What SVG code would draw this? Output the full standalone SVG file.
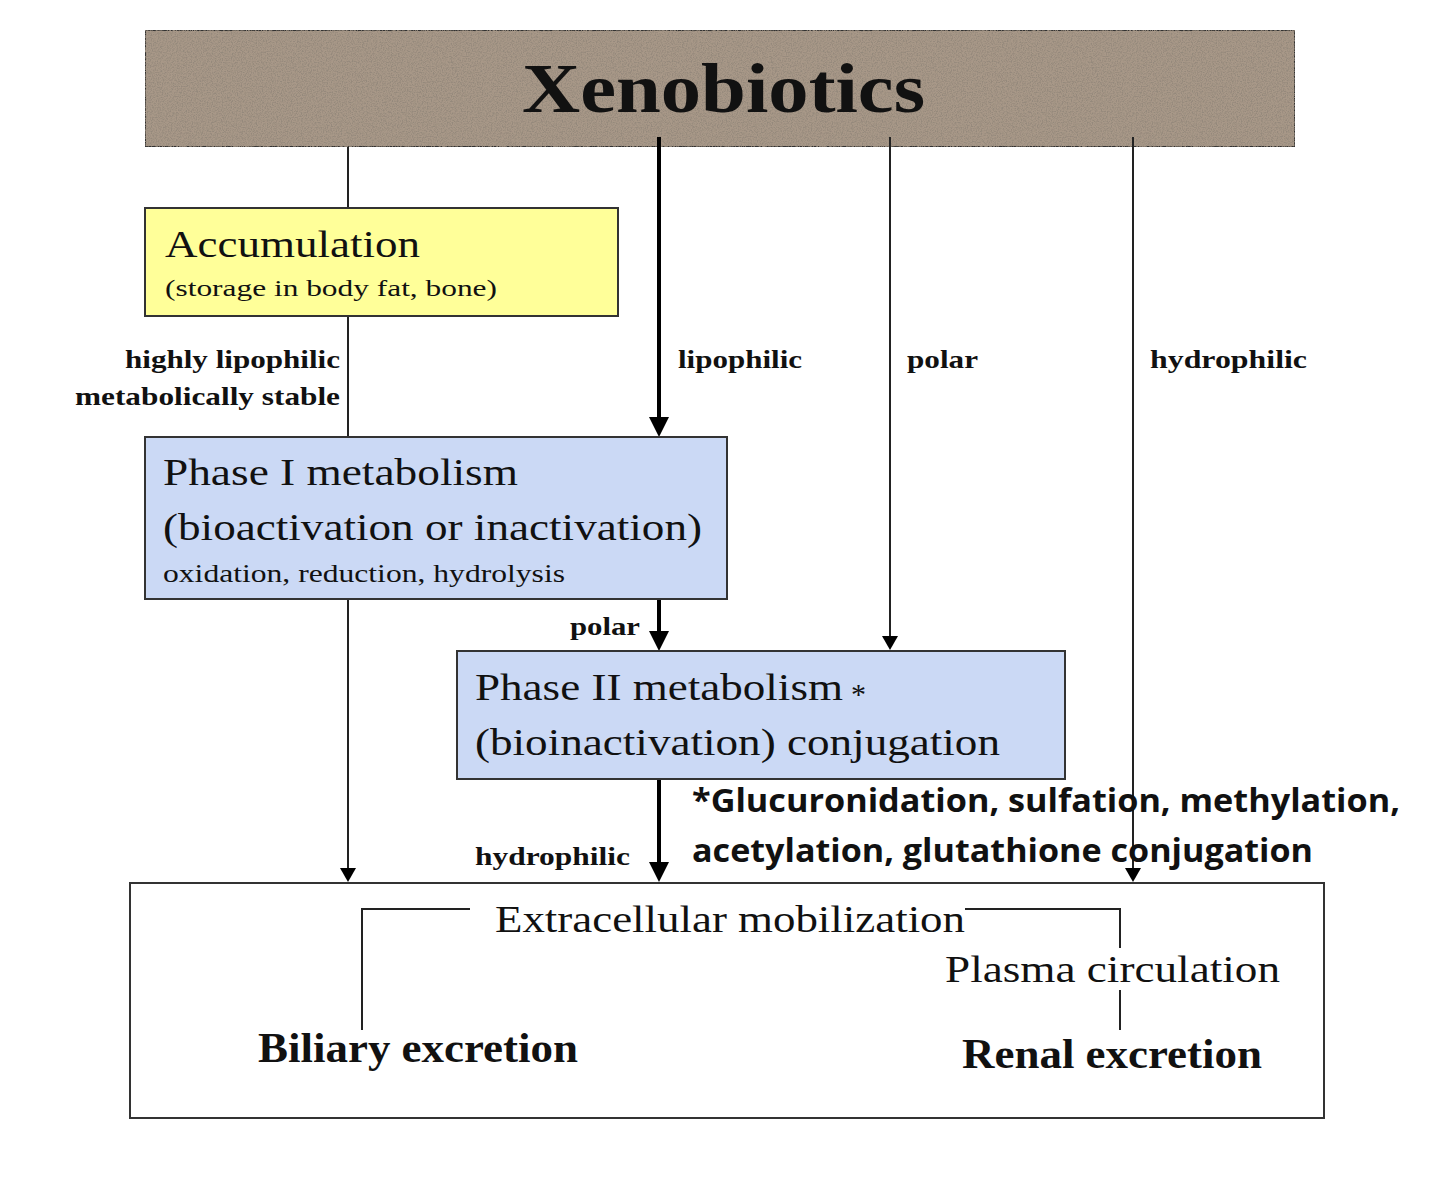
<svg xmlns="http://www.w3.org/2000/svg" width="1440" height="1186" viewBox="0 0 1440 1186">
<defs>
<filter id="tex" x="0" y="0" width="100%" height="100%"><feTurbulence type="fractalNoise" baseFrequency="0.8" numOctaves="2" result="n"/><feColorMatrix in="n" type="matrix" values="0 0 0 0 0.3  0 0 0 0 0.25  0 0 0 0 0.2  0 0 0 3 -1.2" result="c"/><feComposite in="c" in2="SourceGraphic" operator="in" result="cc"/><feMerge><feMergeNode in="SourceGraphic"/><feMergeNode in="cc"/></feMerge></filter>
<marker id="a" markerWidth="8" markerHeight="8" refX="6" refY="4" orient="auto" markerUnits="strokeWidth"><path d="M0,0 L7,4 L0,8 z" fill="#000"/></marker>
<marker id="b" markerWidth="5" markerHeight="5" refX="4" refY="2.5" orient="auto" markerUnits="strokeWidth"><path d="M0,0 L5,2.5 L0,5 z" fill="#000"/></marker>
</defs>
<style>
.s{font-family:"Liberation Serif",serif;fill:#111}
.b{font-family:"Liberation Serif",serif;font-weight:bold;font-size:25px;fill:#111}
.box{stroke:#333;stroke-width:2}
.thin{stroke:#222;stroke-width:2;fill:none}
.thick{stroke:#000;stroke-width:4;fill:none}
</style>
<rect width="1440" height="1186" fill="#fff"/>
<g id="xeno"><rect x="145" y="30" width="1150" height="117" fill="#a89888" class="box" filter="url(#tex)"/><text x="522" y="112" textLength="403" lengthAdjust="spacingAndGlyphs" class="s" font-size="70" font-weight="bold">Xenobiotics</text></g>
<g id="connectors">
<line x1="348" y1="147" x2="348" y2="208" class="thin"/>
<line x1="348" y1="316" x2="348" y2="437" class="thin"/>
<line x1="348" y1="599" x2="348" y2="880" class="thin" marker-end="url(#a)"/>
<line x1="659" y1="137" x2="659" y2="433" class="thick" marker-end="url(#b)"/>
<line x1="890" y1="137" x2="890" y2="648" class="thin" marker-end="url(#a)"/>
<line x1="1133" y1="137" x2="1133" y2="880" class="thin" marker-end="url(#a)"/>
<line x1="659" y1="585" x2="659" y2="647" class="thick" marker-end="url(#b)"/>
<line x1="659" y1="775" x2="659" y2="878" class="thick" marker-end="url(#b)"/>
</g>
<g id="accum"><rect x="145" y="208" width="473" height="108" fill="#ffff99" class="box"/><text x="165" y="257" textLength="255" lengthAdjust="spacingAndGlyphs" class="s" font-size="38">Accumulation</text><text x="165" y="296" textLength="332" lengthAdjust="spacingAndGlyphs" class="s" font-size="24">(storage in body fat, bone)</text></g>
<g id="labels">
<text x="125" y="368" textLength="215" lengthAdjust="spacingAndGlyphs" class="b">highly lipophilic</text>
<text x="75" y="405" textLength="265" lengthAdjust="spacingAndGlyphs" class="b">metabolically stable</text>
<text x="678" y="368" textLength="124" lengthAdjust="spacingAndGlyphs" class="b">lipophilic</text>
<text x="907" y="368" textLength="71" lengthAdjust="spacingAndGlyphs" class="b">polar</text>
<text x="1150" y="368" textLength="157" lengthAdjust="spacingAndGlyphs" class="b">hydrophilic</text>
<text x="570" y="635" textLength="70" lengthAdjust="spacingAndGlyphs" class="b">polar</text>
<text x="475" y="865" textLength="155" lengthAdjust="spacingAndGlyphs" class="b">hydrophilic</text>
</g>
<g id="phase1"><rect x="145" y="437" width="582" height="162" fill="#cbd9f5" class="box"/><text x="163" y="485" textLength="355" lengthAdjust="spacingAndGlyphs" class="s" font-size="38">Phase I metabolism</text><text x="163" y="540" textLength="539" lengthAdjust="spacingAndGlyphs" class="s" font-size="38">(bioactivation or inactivation)</text><text x="163" y="582" textLength="402" lengthAdjust="spacingAndGlyphs" class="s" font-size="25">oxidation, reduction, hydrolysis</text></g>
<g id="phase2"><rect x="457" y="651" width="608" height="128" fill="#cbd9f5" class="box"/><text x="475" y="700" textLength="368" lengthAdjust="spacingAndGlyphs" class="s" font-size="38">Phase II metabolism</text><text x="851" y="704" class="s" font-size="30">*</text><text x="475" y="755" textLength="525" lengthAdjust="spacingAndGlyphs" class="s" font-size="38">(bioinactivation) conjugation</text></g>
<g id="note"><text x="692" y="812" textLength="708" lengthAdjust="spacingAndGlyphs" font-family="'Open Sans','Noto Sans',sans-serif" font-weight="bold" font-size="33" fill="#111">*Glucuronidation, sulfation, methylation,</text><text x="692" y="862" textLength="621" lengthAdjust="spacingAndGlyphs" font-family="'Open Sans','Noto Sans',sans-serif" font-weight="bold" font-size="33" fill="#111">acetylation, glutathione conjugation</text></g>
<g id="excretion"><rect x="130" y="883" width="1194" height="235" fill="#fff" class="box"/>
<polyline points="470,909 362,909 362,1030" class="thin"/>
<polyline points="965,909 1120,909 1120,948" class="thin"/>
<line x1="1120" y1="990" x2="1120" y2="1030" class="thin"/>
<text x="495" y="932" textLength="470" lengthAdjust="spacingAndGlyphs" class="s" font-size="38">Extracellular mobilization</text>
<text x="945" y="982" textLength="335" lengthAdjust="spacingAndGlyphs" class="s" font-size="38">Plasma circulation</text>
<text x="258" y="1062" textLength="320" lengthAdjust="spacingAndGlyphs" class="s" font-size="42" font-weight="bold">Biliary excretion</text>
<text x="962" y="1068" textLength="300" lengthAdjust="spacingAndGlyphs" class="s" font-size="42" font-weight="bold">Renal excretion</text>
</g>
</svg>
